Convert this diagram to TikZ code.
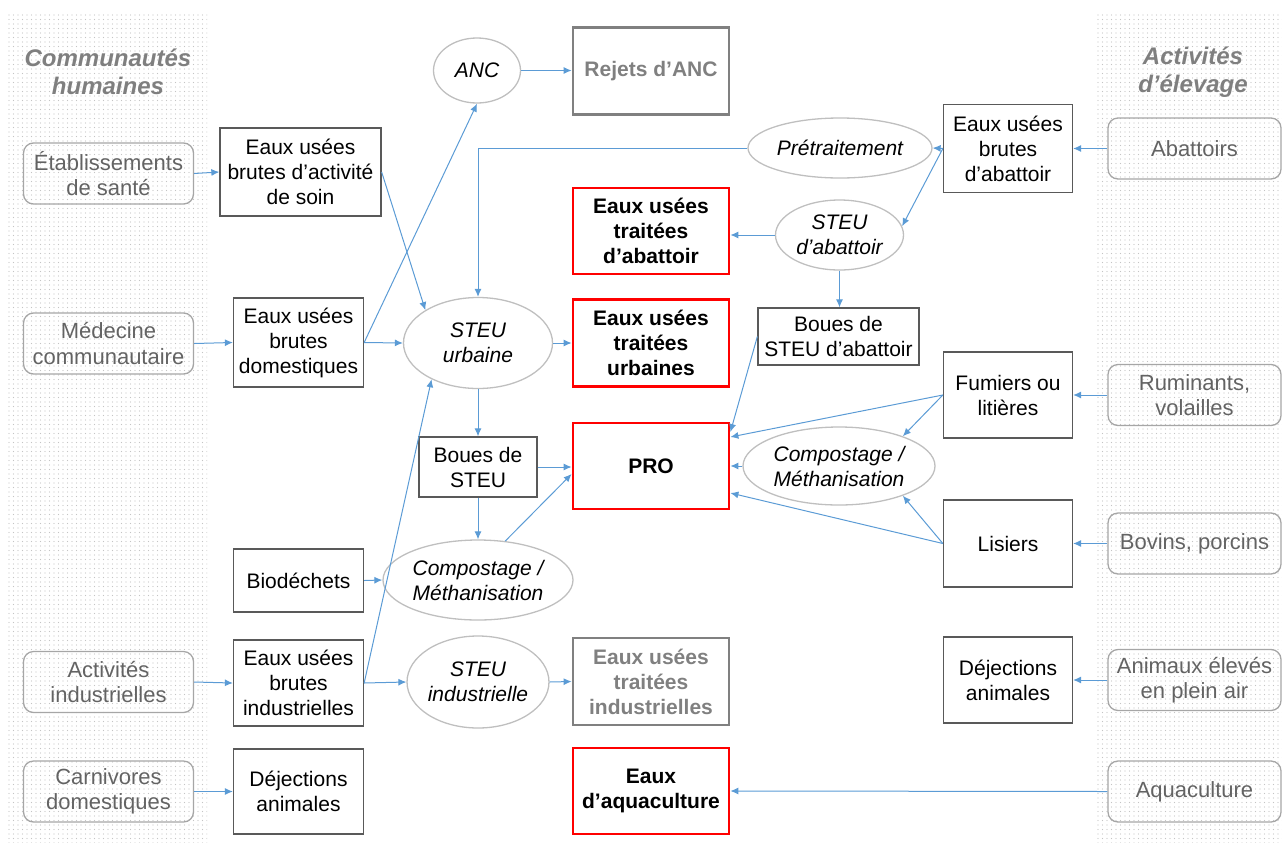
\documentclass[tikz,border=0pt]{standalone}
\usepackage{fontspec}
\setmainfont{Liberation Sans}
\usetikzlibrary{arrows.meta,shapes.geometric,patterns.meta}
\definecolor{ablue}{HTML}{5B9BD5}
\definecolor{rgray}{HTML}{A6A6A6}
\definecolor{rtext}{HTML}{636363}
\definecolor{bgray}{HTML}{595959}
\definecolor{egray}{HTML}{BFBFBF}
\definecolor{ogray}{HTML}{808080}
\definecolor{tgray}{HTML}{7F7F7F}
\definecolor{dgray}{HTML}{C4C4C4}
\definecolor{redb}{HTML}{FF0000}
\tikzset{
  txtbase/.style={inner sep=0pt, align=center, font=\fontsize{21}{25}\selectfont},
  rbox/.style={txtbase, draw=rgray, line width=1.3pt, rounded corners=10pt, text=rtext, minimum width=170pt, minimum height=61pt, font=\fontsize{22}{25}\selectfont},
  bbox/.style={txtbase, draw=bgray, line width=1.3pt, rectangle},
  ell/.style={txtbase, ellipse, draw=egray, line width=1.3pt, font=\fontsize{21}{25}\selectfont\itshape},
  redbox/.style={txtbase, draw=redb, line width=2.8pt, font=\fontsize{21}{25}\selectfont\bfseries, minimum width=156pt},
  graybox/.style={txtbase, draw=ogray, line width=2.8pt, text=ogray, font=\fontsize{21}{25}\selectfont\bfseries, minimum width=156pt},
  ttl/.style={inner sep=0pt, align=center, text=tgray, font=\fontsize{24}{28}\selectfont\bfseries\itshape},
  arr/.style={draw=ablue, line width=1pt, -{Latex[length=8pt,width=7pt]}},
  panel/.style={draw=none, pattern={Dots[distance=4.5pt,radius=0.55pt]}, pattern color=dgray},
}
\begin{document}
\begin{tikzpicture}[x=1pt,y=-1pt]
\useasboundingbox (0,0) rectangle (1282,852);
% panels
\path[panel] (7,12) rectangle (207,842);
\path[panel] (1095,12) rectangle (1282,842);
% titles
\node[ttl] (tl) at (108,72) {Communautés\\humaines};
\node[ttl] (tr) at (1193,72) {Activités\\d’élevage};
% left rounded boxes
\node[rbox] (es) at (108.5,173.5) {Établissements\\de santé};
\node[rbox] (mc) at (108.5,343.5) {Médecine\\communautaire};
\node[rbox] (ai) at (108.5,682) {Activités\\industrielles};
\node[rbox] (cd) at (108.5,791.5) {Carnivores\\domestiques};
% column 2
\node[bbox, minimum width=161pt, minimum height=88pt] (ebs) at (300.5,172) {Eaux usées\\brutes d’activité\\de soin};
\node[bbox, minimum width=130pt, minimum height=89pt] (ebd) at (298.5,342.5) {Eaux usées\\brutes\\domestiques};
\node[bbox, minimum width=130pt, minimum height=63pt] (bio) at (298.5,580.5) {Biodéchets};
\node[bbox, minimum width=130pt, minimum height=86pt] (ebi) at (298.5,683) {Eaux usées\\brutes\\industrielles};
\node[bbox, minimum width=130pt, minimum height=85pt] (dja) at (298.5,791.5) {Déjections\\animales};
% column 3
\node[ell, minimum width=87pt, minimum height=65pt] (anc) at (477,70.5) {ANC};
\node[ell, minimum width=149pt, minimum height=91pt] (stu) at (478,343) {STEU\\urbaine};
\node[bbox, minimum width=118pt, minimum height=60pt] (bst) at (478,467) {Boues de\\STEU};
\node[ell, minimum width=190pt, minimum height=80pt] (cpl) at (478,580) {Compostage /\\Méthanisation};
\node[ell, minimum width=126pt, minimum height=92pt] (sti) at (478,682) {STEU\\industrielle};
% column 4
\node[graybox, minimum height=87pt] (rej) at (651,71) {Rejets d’ANC};
\node[redbox, minimum height=86pt] (eta) at (651,231) {Eaux usées\\traitées\\d’abattoir};
\node[redbox, minimum height=87pt] (etu) at (651,343) {Eaux usées\\traitées\\urbaines};
\node[redbox, minimum height=86pt] (pro) at (651,466) {PRO};
\node[graybox, minimum height=87pt] (eti) at (651,681.5) {Eaux usées\\traitées\\industrielles};
\node[redbox, minimum height=86pt] (eaq) at (651,791) {Eaux\\d’aquaculture};
% column 5
\node[ell, minimum width=184pt, minimum height=60pt] (pre) at (840,148) {Prétraitement};
\node[ell, minimum width=128pt, minimum height=70pt] (sta) at (839.5,235) {STEU\\d’abattoir};
\node[bbox, minimum width=161pt, minimum height=57pt] (bsa) at (838.5,336.5) {Boues de\\STEU d’abattoir};
\node[ell, minimum width=192pt, minimum height=78pt] (cpr) at (839,466) {Compostage /\\Méthanisation};
% column 6
\node[bbox, minimum width=129pt, minimum height=88pt] (eba) at (1008,148.5) {Eaux usées\\brutes\\d’abattoir};
\node[bbox, minimum width=129pt, minimum height=86pt] (fum) at (1008,395) {Fumiers ou\\litières};
\node[bbox, minimum width=129pt, minimum height=87pt] (lis) at (1008,543.5) {Lisiers};
\node[bbox, minimum width=129pt, minimum height=86pt] (djr) at (1008,680) {Déjections\\animales};
% right rounded boxes
\node[rbox, minimum width=173pt] (abt) at (1194.5,148.5) {Abattoirs};
\node[rbox, minimum width=173pt] (rum) at (1194.5,395) {Ruminants,\\volailles};
\node[rbox, minimum width=173pt] (bov) at (1194.5,543.5) {Bovins, porcins};
\node[rbox, minimum width=173pt] (ani) at (1194.5,680) {Animaux élevés\\en plein air};
\node[rbox, minimum width=173pt] (aqu) at (1194.5,791.5) {Aquaculture};
% connectors, left side
\draw[arr] (es.east) -- (ebs.west);
\draw[arr] (mc.east) -- (ebd.west);
\draw[arr] (ai.east) -- (ebi.west);
\draw[arr] (cd.east) -- (dja.west);
\draw[arr] (ebs.east) -- (stu.148);
\draw[arr] (ebd.east) -- (stu.west);
\draw[arr] (ebd.east) -- (anc.south);
\draw[arr] (anc.east) -- (anc.east -| rej.west);
\draw[arr] (ebi.east) -- (stu.218);
\draw[arr] (ebi.east) -- (sti.west);
\draw[arr] (sti.east) -- (eti.west);
\draw[arr] (bio.east) -- (cpl.west);
\draw[arr] (stu.east) -- (etu.west);
\draw[arr] (stu.south) -- (bst.north);
\draw[arr] (bst.east) -- (bst.east -| pro.west);
\draw[arr] (bst.south) -- (cpl.north);
\draw[arr] (cpl.55) -- ([yshift=-8pt]pro.west);
% connectors, right side
\draw[arr] (pre.west) -| (stu.north);
\draw[arr] (eba.west) -- (pre.east);
\draw[arr] (eba.west) -- (sta.8);
\draw[arr] (sta.west) -- (sta.west -| eta.east);
\draw[arr] (sta.south) -- (sta.south |- bsa.north);
\draw[arr] (bsa.west) -- ([yshift=34pt]pro.east);
\draw[arr] (fum.west) -- ([yshift=29pt]pro.east);
\draw[arr] (fum.west) -- (cpr.25);
\draw[arr] (cpr.west) -- (pro.east);
\draw[arr] (lis.west) -- ([yshift=-27pt]pro.east);
\draw[arr] (lis.west) -- (cpr.-25);
\draw[arr] (abt.west) -- (eba.east);
\draw[arr] (rum.west) -- (fum.east);
\draw[arr] (bov.west) -- (lis.east);
\draw[arr] (ani.west) -- (djr.east);
\draw[arr] (aqu.west) -- (eaq.east);
\end{tikzpicture}
\end{document}
